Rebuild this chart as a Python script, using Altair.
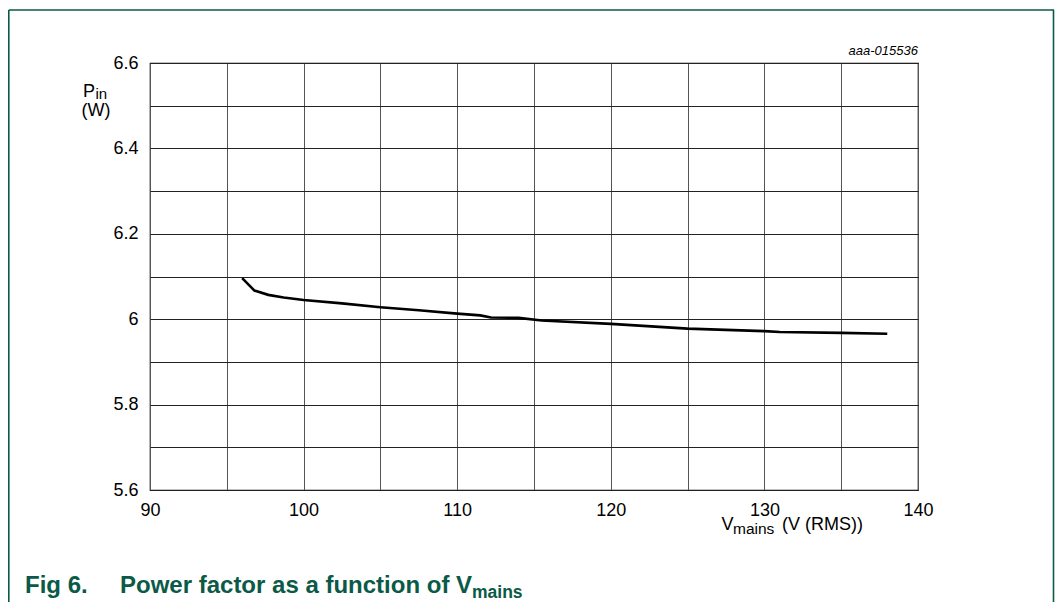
import altair as alt
import pandas as pd

# ---- data ----
v_mains = [96.0, 96.8, 97.7, 98.7, 100.0, 102.5, 105.0, 107.5, 110.0, 111.5,
           112.2, 114.0, 115.5, 120.0, 125.0, 130.0, 131.0, 135.0, 138.0]
p_in = [6.096, 6.067, 6.057, 6.051, 6.045, 6.037, 6.028, 6.021, 6.013, 6.009,
        6.004, 6.003, 5.997, 5.989, 5.978, 5.972, 5.970, 5.968, 5.966]

x_ticks = [90, 95, 100, 105, 110, 115, 120, 125, 130, 135, 140]
y_ticks = [5.6, 5.7, 5.8, 5.9, 6.0, 6.1, 6.2, 6.3, 6.4, 6.5, 6.6]

FONT = "Liberation Sans"
GREEN = "#0b5a47"
W, H = 768, 427

df = pd.DataFrame({"v": v_mains, "p": p_in})

line = alt.Chart(df).mark_line(color="black", strokeWidth=2.6).encode(
    x=alt.X("v:Q",
            scale=alt.Scale(domain=[90, 140], nice=False, zero=False),
            axis=alt.Axis(values=x_ticks, title=None, grid=True, gridColor="#555",
                          gridWidth=1, domain=False, ticks=False,
                          labelExpr="datum.value % 10 == 0 ? datum.label : ''",
                          labelFont=FONT, labelFontSize=18, labelColor="black",
                          labelPadding=11, labelFlush=False)),
    y=alt.Y("p:Q",
            scale=alt.Scale(domain=[5.6, 6.6], nice=False, zero=False),
            axis=alt.Axis(values=y_ticks, title=None, grid=True, gridColor="#222",
                          gridWidth=1, domain=False, ticks=False, format=".1~f",
                          labelExpr="round(datum.value*10) % 2 == 0 ? datum.label : ''",
                          labelFont=FONT, labelFontSize=18, labelColor="black",
                          labelPadding=12, labelFlush=False)),
)


def txt(s, x, y, size, align="left", bold=False, italic=False, color="black"):
    return alt.Chart(pd.DataFrame({"t": [s]})).mark_text(
        align=align, baseline="alphabetic", font=FONT, fontSize=size,
        fontWeight="bold" if bold else "normal",
        fontStyle="italic" if italic else "normal", color=color,
    ).encode(text="t:N", x=alt.value(x), y=alt.value(y))


def rule(x, y, x2=None, y2=None):
    enc = dict(x=alt.value(x), y=alt.value(y))
    if x2 is not None:
        enc["x2"] = alt.value(x2)
    if y2 is not None:
        enc["y2"] = alt.value(y2)
    return alt.Chart(pd.DataFrame({"a": [0]})).mark_rule(
        color=GREEN, strokeWidth=1.6).encode(**enc)


layers = [
    line,
    txt("aaa-015536", W, -8, 13, align="right", italic=True),
    txt("P", -67, 33.5, 18),
    txt("in", -54.5, 35.5, 15),
    txt("(W)", -54, 53, 18, align="center"),
    txt("V", 571.5, 467, 18),
    txt("mains", 583, 471, 15.5),
    txt("(V (RMS))", 632, 467, 18),
    txt("Fig 6.", -125, 530, 24, bold=True, color=GREEN),
    txt("Power factor as a function of V", -30, 530, 24, bold=True, color=GREEN),
    txt("mains", 322, 535, 17.5, bold=True, color=GREEN),
    rule(-141.2, -53, y2=600),
    rule(903.5, -53, y2=600),
    rule(-141.2, -53, x2=904),
]

chart = alt.layer(*layers).properties(
    width=W, height=H,
    padding={"left": 142, "top": 55, "right": 137, "bottom": 112},
    autosize=alt.AutoSizeParams(type="none"),
    background="white",
).configure_view(stroke="black", strokeWidth=1.2)

chart.save("out.html", embed_options={"renderer": "svg", "actions": False})
